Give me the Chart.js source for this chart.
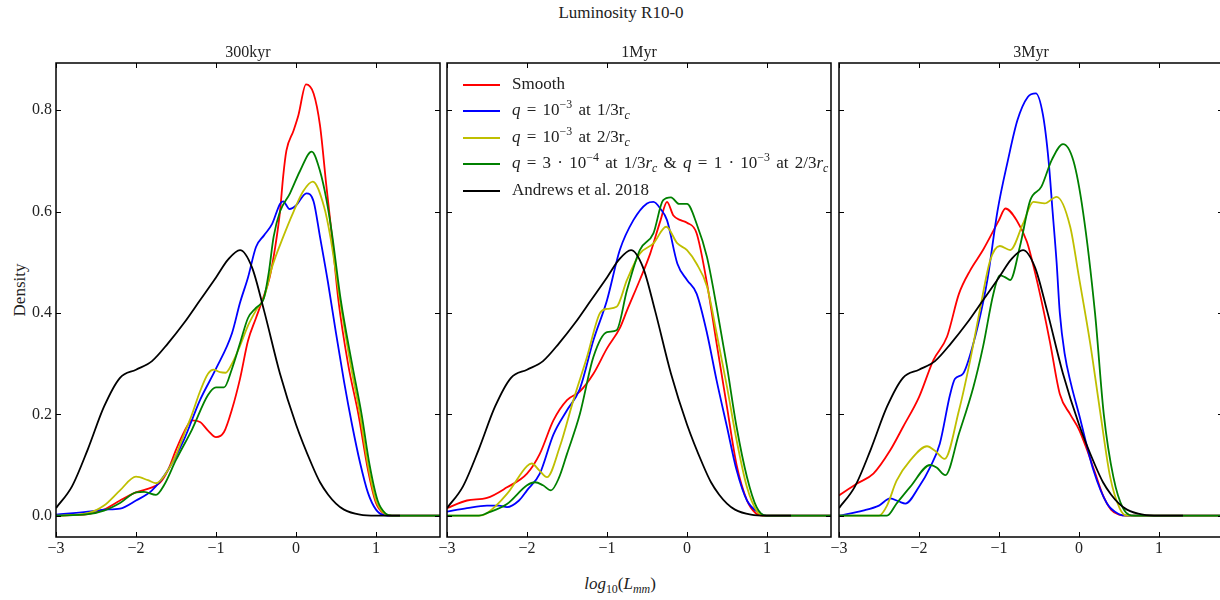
<!DOCTYPE html>
<html>
<head>
<meta charset="utf-8">
<script src="https://cdn.jsdelivr.net/npm/chart.js@4/dist/chart.umd.min.js"></script>
<style>
  body { margin: 0; width: 1220px; height: 600px; overflow: hidden; background: #fff;
         position: relative; font-family: "Liberation Serif", serif; color: #222; }
  canvas { position: absolute; top: 0; }
  .txt { position: absolute; white-space: nowrap; line-height: 20px; }
  .math { word-spacing: 2px; }
  sub { font-size: 70%; vertical-align: -0.3em; line-height: 0; }
  sup { font-size: 70%; vertical-align: 0.55em; line-height: 0; }
  .swatch { position: absolute; width: 37px; height: 2px; }
</style>
</head>
<body>

<div class="txt" style="left:0;width:1242px;text-align:center;top:3px;font-size:17px">Luminosity R10-0</div>
<div class="txt" style="left:20px;top:290px;font-size:17px;transform:translate(-50%,-50%) rotate(-90deg)">Density</div>
<div class="txt" style="left:0;width:1240px;text-align:center;top:574px;font-size:17px"><i>log</i><sub>10</sub>(<i>L</i><sub><i>mm</i></sub>)</div>

<script>
// tick labels + panel titles
const xTickValues = [-3, -2, -1, 0, 1];
const yTickValues = [0, 0.2, 0.4, 0.6, 0.8];
const panelTitles = ['300kyr', '1Myr', '3Myr'];

const seriesNames = ['Smooth', 'q = 10^-3 at 1/3rc', 'q = 10^-3 at 2/3rc',
  'q = 3e-4 at 1/3rc & q = 1e-3 at 2/3rc', 'Andrews et al. 2018'];
const legendHtml = [
  'Smooth',
  '<i>q</i> = 10<sup>\u22123</sup> at 1/3r<sub><i>c</i></sub>',
  '<i>q</i> = 10<sup>\u22123</sup> at 2/3r<sub><i>c</i></sub>',
  '<i>q</i> = 3 \u00b7 10<sup>\u22124</sup> at 1/3<i>r</i><sub><i>c</i></sub> &amp; <i>q</i> = 1 \u00b7 10<sup>\u22123</sup> at 2/3<i>r</i><sub><i>c</i></sub>',
  'Andrews et al. 2018'
];
const seriesColors = ['#ff0000', '#0000ff', '#bfbf00', '#008000', '#000000'];

// density curves, [log10 L, density]
const andrews = [[-3,0.015],[-2.8,0.058],[-2.6,0.132],[-2.4,0.215],[-2.2,0.272],[-2.0,0.288],[-1.8,0.305],
  [-1.6,0.34],[-1.4,0.38],[-1.2,0.425],[-1.0,0.47],[-0.85,0.505],[-0.7,0.524],[-0.55,0.49],[-0.4,0.405],
  [-0.2,0.28],[0,0.18],[0.2,0.1],[0.3,0.066],[0.4,0.042],[0.5,0.024],[0.6,0.012],[0.8,0.002],[1.0,0],[1.3,0]];

const smooth300 = [[-3,0],[-2.6,0.003],[-2.4,0.012],[-2.2,0.03],[-2.0,0.046],[-1.8,0.056],[-1.7,0.065],
  [-1.6,0.09],[-1.5,0.13],[-1.4,0.165],[-1.3,0.188],[-1.2,0.185],[-1.1,0.168],[-1.0,0.155],[-0.9,0.165],
  [-0.8,0.21],[-0.7,0.27],[-0.6,0.345],[-0.5,0.39],[-0.42,0.425],[-0.33,0.47],[-0.26,0.53],[-0.2,0.6],
  [-0.16,0.67],[-0.12,0.72],[-0.03,0.76],[0.03,0.79],[0.125,0.851],[0.22,0.833],[0.3,0.77],[0.38,0.65],
  [0.45,0.55],[0.53,0.425],[0.65,0.3],[0.78,0.2],[0.9,0.09],[1.0,0.025],[1.1,0.004],[1.2,0],[1.8,0]];
const q13_300 = [[-3,0.002],[-2.6,0.008],[-2.4,0.012],[-2.2,0.014],[-2.0,0.03],[-1.8,0.05],[-1.6,0.09],
  [-1.4,0.15],[-1.2,0.228],[-1.0,0.29],[-0.8,0.36],[-0.7,0.42],[-0.6,0.47],[-0.5,0.53],[-0.4,0.553],
  [-0.3,0.575],[-0.2,0.615],[-0.16,0.62],[-0.08,0.605],[0,0.612],[0.13,0.636],[0.22,0.62],[0.3,0.55],
  [0.4,0.46],[0.5,0.36],[0.6,0.265],[0.7,0.18],[0.8,0.105],[0.9,0.045],[1.0,0.012],[1.1,0.001],[1.2,0],[1.8,0]];
const q23_300 = [[-3,0],[-2.6,0.005],[-2.4,0.02],[-2.2,0.05],[-2.0,0.077],[-1.85,0.07],[-1.75,0.064],
  [-1.6,0.09],[-1.5,0.12],[-1.4,0.16],[-1.3,0.2],[-1.2,0.245],[-1.1,0.28],[-1.03,0.288],[-0.95,0.283],
  [-0.88,0.282],[-0.8,0.3],[-0.7,0.335],[-0.6,0.375],[-0.5,0.405],[-0.4,0.43],[-0.3,0.49],[-0.16,0.55],
  [-0.03,0.6],[0.09,0.64],[0.21,0.659],[0.35,0.61],[0.43,0.55],[0.55,0.425],[0.68,0.3],[0.8,0.2],
  [0.9,0.1],[1.0,0.03],[1.1,0.005],[1.2,0],[1.8,0]];
const combo300 = [[-3,0],[-2.6,0.003],[-2.4,0.01],[-2.2,0.025],[-2.0,0.046],[-1.9,0.047],[-1.75,0.041],
  [-1.65,0.06],[-1.5,0.11],[-1.3,0.17],[-1.1,0.238],[-1.0,0.253],[-0.9,0.253],[-0.8,0.29],[-0.7,0.34],
  [-0.6,0.39],[-0.5,0.41],[-0.4,0.43],[-0.34,0.48],[-0.28,0.55],[-0.2,0.6],[-0.075,0.636],[0.05,0.68],
  [0.196,0.718],[0.3,0.68],[0.38,0.624],[0.45,0.556],[0.56,0.425],[0.7,0.3],[0.82,0.2],[0.92,0.1],
  [1.02,0.03],[1.12,0.004],[1.2,0],[1.8,0]];

const smooth1M = [[-3,0.015],[-2.75,0.03],[-2.5,0.035],[-2.25,0.056],[-2.0,0.083],[-1.84,0.122],
  [-1.67,0.188],[-1.5,0.228],[-1.34,0.245],[-1.17,0.28],[-1.0,0.33],[-0.84,0.37],[-0.75,0.405],
  [-0.59,0.465],[-0.46,0.517],[-0.33,0.583],[-0.25,0.619],[-0.17,0.592],[-0.08,0.583],[0,0.578],
  [0.12,0.557],[0.25,0.458],[0.37,0.34],[0.5,0.214],[0.62,0.1],[0.75,0.03],[0.85,0.006],[0.95,0],[1.8,0]];
const q13_1M = [[-3,0.008],[-2.75,0.015],[-2.5,0.02],[-2.35,0.02],[-2.25,0.017],[-2.1,0.03],[-2.0,0.05],
  [-1.84,0.083],[-1.67,0.16],[-1.5,0.208],[-1.34,0.25],[-1.17,0.346],[-1.0,0.425],[-0.84,0.524],
  [-0.67,0.583],[-0.5,0.616],[-0.42,0.619],[-0.33,0.605],[-0.25,0.583],[-0.12,0.497],[0,0.465],
  [0.12,0.438],[0.25,0.36],[0.37,0.267],[0.5,0.175],[0.62,0.09],[0.75,0.03],[0.92,0.004],[1.0,0],[1.8,0]];
const q23_1M = [[-3,0],[-2.6,0],[-2.5,0.005],[-2.25,0.043],[-2.0,0.098],[-1.94,0.103],[-1.85,0.09],
  [-1.75,0.076],[-1.59,0.136],[-1.42,0.228],[-1.25,0.313],[-1.09,0.399],[-1.0,0.408],[-0.88,0.412],
  [-0.75,0.465],[-0.59,0.517],[-0.42,0.537],[-0.26,0.57],[-0.12,0.537],[0,0.524],[0.12,0.497],
  [0.25,0.452],[0.37,0.36],[0.5,0.254],[0.62,0.149],[0.75,0.056],[0.87,0.01],[0.98,0],[1.8,0]];
const combo1M = [[-3,0],[-2.6,0],[-2.5,0.005],[-2.25,0.023],[-2.0,0.06],[-1.9,0.066],[-1.8,0.06],
  [-1.7,0.05],[-1.6,0.075],[-1.5,0.122],[-1.34,0.2],[-1.17,0.313],[-1.0,0.362],[-0.88,0.366],
  [-0.75,0.445],[-0.59,0.524],[-0.42,0.557],[-0.3,0.622],[-0.2,0.628],[-0.1,0.615],[0,0.615],
  [0.12,0.576],[0.25,0.51],[0.37,0.412],[0.5,0.294],[0.62,0.175],[0.75,0.076],[0.87,0.017],[0.99,0],[1.8,0]];

const smooth3M = [[-3,0.04],[-2.78,0.063],[-2.57,0.083],[-2.36,0.129],[-2.2,0.175],[-2.0,0.234],
  [-1.82,0.307],[-1.65,0.353],[-1.5,0.438],[-1.36,0.484],[-1.2,0.524],[-1.0,0.583],[-0.92,0.606],
  [-0.78,0.583],[-0.65,0.54],[-0.55,0.48],[-0.45,0.41],[-0.36,0.34],[-0.24,0.24],[-0.11,0.2],[0,0.17],
  [0.1,0.13],[0.2,0.085],[0.3,0.04],[0.4,0.012],[0.5,0.002],[0.6,0],[1.8,0]];
const q13_3M = [[-3,0],[-2.7,0.01],[-2.5,0.02],[-2.36,0.034],[-2.25,0.028],[-2.17,0.024],[-2.0,0.057],
  [-1.86,0.096],[-1.74,0.142],[-1.61,0.24],[-1.55,0.27],[-1.45,0.28],[-1.32,0.34],[-1.2,0.42],
  [-1.14,0.47],[-1.02,0.6],[-0.89,0.7],[-0.77,0.78],[-0.64,0.826],[-0.54,0.833],[-0.45,0.79],
  [-0.38,0.7],[-0.33,0.6],[-0.28,0.5],[-0.24,0.4],[-0.18,0.32],[-0.1,0.26],[0,0.2],[0.18,0.09],
  [0.35,0.024],[0.5,0.003],[0.6,0],[1.8,0]];
const q23_3M = [[-3,0],[-2.5,0],[-2.4,0.02],[-2.28,0.069],[-2.11,0.109],[-1.9,0.137],[-1.8,0.128],
  [-1.68,0.112],[-1.5,0.208],[-1.36,0.307],[-1.24,0.405],[-1.11,0.504],[-0.99,0.532],[-0.86,0.524],
  [-0.7,0.576],[-0.57,0.619],[-0.43,0.616],[-0.28,0.629],[-0.11,0.57],[0,0.47],[0.14,0.34],
  [0.26,0.21],[0.39,0.076],[0.51,0.014],[0.6,0],[1.8,0]];
const combo3M = [[-3,0],[-2.4,0],[-2.28,0.024],[-2.11,0.057],[-1.86,0.1],[-1.78,0.095],[-1.67,0.08],
  [-1.5,0.162],[-1.32,0.254],[-1.2,0.333],[-1.07,0.438],[-0.99,0.474],[-0.92,0.47],[-0.86,0.465],
  [-0.74,0.53],[-0.61,0.622],[-0.47,0.649],[-0.34,0.702],[-0.2,0.733],[-0.07,0.7],[0.05,0.6],
  [0.2,0.4],[0.31,0.2],[0.43,0.076],[0.55,0.015],[0.7,0],[1.8,0]];

const panelData = [
  [smooth300, q13_300, q23_300, combo300, andrews],
  [smooth1M, q13_1M, q23_1M, combo1M, andrews],
  [smooth3M, q13_3M, q23_3M, combo3M, andrews]
];

const panelLeft = [56, 447, 839];
const fontFamily = '"Liberation Serif", serif';

function fmtX(v) {
  return v < 0 ? '\u2212' + Math.abs(v) : String(v);
}

// box around each panel + inward ticks on all four sides
const frameTicks = {
  id: 'frameTicks',
  afterDatasetsDraw(chart) {
    const ctx = chart.ctx;
    const a = chart.chartArea;
    const x = chart.scales.x, y = chart.scales.y;
    ctx.save();
    ctx.strokeStyle = '#000';
    ctx.lineWidth = 1;
    ctx.beginPath();
    xTickValues.forEach(v => {
      const px = Math.round(x.getPixelForValue(v)) + 0.5;
      ctx.moveTo(px, a.bottom); ctx.lineTo(px, a.bottom - 5);
      ctx.moveTo(px, a.top); ctx.lineTo(px, a.top + 5);
    });
    yTickValues.forEach(v => {
      const py = Math.round(y.getPixelForValue(v)) + 0.5;
      ctx.moveTo(a.left, py); ctx.lineTo(a.left + 5, py);
      ctx.moveTo(a.right, py); ctx.lineTo(a.right - 5, py);
    });
    ctx.stroke();
    ctx.lineWidth = 1.5;
    ctx.strokeRect(a.left, a.top, a.right - a.left, a.bottom - a.top);
    ctx.restore();
  }
};

function makePanel(idx) {
  const first = idx === 0;
  const canvas = document.createElement('canvas');
  canvas.width = 444;
  canvas.height = 600;
  canvas.style.left = (panelLeft[idx] - 50) + 'px';
  document.body.appendChild(canvas);

  const title = document.createElement('div');
  title.className = 'txt';
  title.style.cssText = 'left:' + (panelLeft[idx] - 58) + 'px;width:500px;text-align:center;top:42px;font-size:16px';
  title.textContent = panelTitles[idx];
  document.body.appendChild(title);

  const tickFont = { family: fontFamily, size: 16 };

  return new Chart(canvas, {
    type: 'line',
    data: {
      datasets: panelData[idx].map((pts, i) => ({
        label: seriesNames[i],
        data: pts.map(p => ({ x: p[0], y: p[1] })),
        borderColor: seriesColors[i],
        borderWidth: 1.8,
        pointRadius: 0,
        fill: false,
        cubicInterpolationMode: 'monotone',
        order: 4 - i
      }))
    },
    options: {
      responsive: false,
      animation: false,
      devicePixelRatio: 1,
      // y axis box is 45px wide on every panel (labels only shown on the first)
      layout: { padding: { left: 5, right: 10, top: 63, bottom: 33 } },
      plugins: {
        legend: { display: false },
        tooltip: { enabled: false },
        title: { display: false }
      },
      scales: {
        x: {
          type: 'linear',
          min: -3,
          max: 1.8,
          grid: { display: false, drawTicks: false },
          border: { display: false },
          afterBuildTicks: s => { s.ticks = xTickValues.map(v => ({ value: v })); },
          afterFit: s => { s.height = 30; },
          ticks: { padding: 2, color: '#222', font: tickFont, maxRotation: 0, autoSkip: false,
                   callback: v => fmtX(v) }
        },
        y: {
          type: 'linear',
          min: -0.042,
          max: 0.893,
          grid: { display: false, drawTicks: false },
          border: { display: false },
          afterBuildTicks: s => { s.ticks = yTickValues.map(v => ({ value: v })); },
          afterFit: s => { s.width = 45; },
          ticks: { display: first, padding: 4, color: '#222', font: tickFont, callback: v => v.toFixed(1) }
        }
      }
    },
    plugins: [frameTicks]
  });
}

const charts = [0, 1, 2].map(makePanel);

// legend inside the middle panel, built from its datasets
const legendTop = 85;
charts[1].data.datasets.forEach((ds, i) => {
  const rowY = legendTop + i * 26.4;
  const sw = document.createElement('div');
  sw.className = 'swatch';
  sw.style.left = '463px';
  sw.style.top = (rowY - 1) + 'px';
  sw.style.background = ds.borderColor;
  document.body.appendChild(sw);
  const lab = document.createElement('div');
  lab.className = (i >= 1 && i <= 3) ? 'txt math' : 'txt';
  lab.style.left = '512px';
  lab.style.top = (rowY - 11) + 'px';
  lab.style.fontSize = '17px';
  lab.innerHTML = legendHtml[i];
  document.body.appendChild(lab);
});
</script>
</body>
</html>
